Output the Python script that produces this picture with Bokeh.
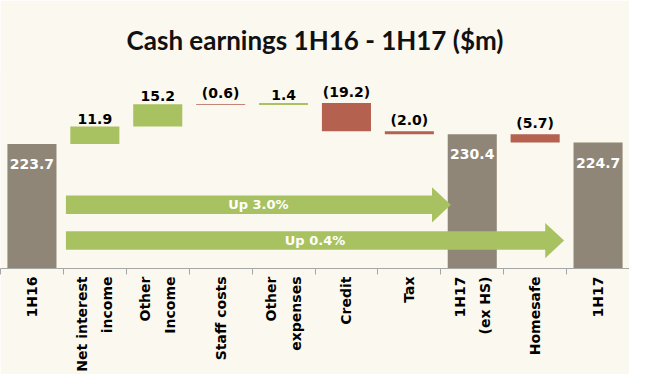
import math
from bokeh.plotting import figure
from bokeh.models import ColumnDataSource, FixedTicker, Title
from bokeh.core.properties import value
from bokeh.embed import file_html
from bokeh.resources import INLINE

# ---------------- data ----------------
categories = ["1H16", "Net interest\nincome", "Other\nIncome", "Staff costs",
              "Other\nexpenses", "Credit", "Tax", "1H17\n(ex HS)", "Homesafe", "1H17"]
amounts = [223.7, 11.9, 15.2, -0.6, 1.4, -19.2, -2.0, 230.4, -5.7, 224.7]
is_total = [True, False, False, False, False, False, False, True, False, True]
value_labels = ["223.7", "11.9", "15.2", "(0.6)", "1.4", "(19.2)", "(2.0)",
                "230.4", "(5.7)", "224.7"]

# growth arrows: (from total index, to total index)
growth_pairs = [(0, 7), (0, 9)]

# ---------------- styling / layout ----------------
BG = "#FBF8EF"
C_TOTAL = "#8F8677"
C_UP = "#A9C261"
C_DOWN = "#B5614F"
AXIS_FLOOR = 139.0
Y_TOP = 273.7
BAR_W = 0.78
FONT = "DejaVu Sans"

# waterfall geometry
bottoms, tops, colors = [], [], []
running = 0.0
for amt, tot in zip(amounts, is_total):
    if tot:
        running = amt
        bottoms.append(AXIS_FLOOR)
        tops.append(amt)
        colors.append(C_TOTAL)
    else:
        start = running
        running = running + amt
        bottoms.append(min(start, running))
        tops.append(max(start, running))
        colors.append(C_UP if amt >= 0 else C_DOWN)

xs = [i + 0.5 for i in range(len(categories))]

p = figure(width=629, height=374, x_range=(0, len(categories)),
           y_range=(AXIS_FLOOR, Y_TOP), output_backend="svg",
           toolbar_location=None, y_axis_location=None,
           min_border_left=0, min_border_right=0, min_border_top=70,
           min_border_bottom=105)
p.background_fill_color = BG
p.border_fill_color = BG
p.outline_line_color = None
p.grid.visible = False

p.title = Title(text="Cash earnings 1H16 - 1H17 ($m)", align="center",
                text_font="Lato", text_font_size="26px",
                text_font_style="bold", text_color="#111111", standoff=30)

src = ColumnDataSource(dict(x=xs, bottom=bottoms, top=tops, color=colors))
p.vbar(x="x", bottom="bottom", top="top", width=BAR_W, color="color",
       source=src, line_color=None)

# value labels: totals inside (white), deltas above (black)
out_x = [x for x, t in zip(xs, is_total) if not t]
out_y = [tp for tp, t in zip(tops, is_total) if not t]
out_t = [l for l, t in zip(value_labels, is_total) if not t]
p.text(x=out_x, y=out_y, text=out_t, text_align="center",
       text_baseline="bottom", y_offset=-3, text_font=value(FONT),
       text_font_style="bold", text_font_size="14px", text_color="#000000")

in_x = [x for x, t in zip(xs, is_total) if t]
in_y = [tp for tp, t in zip(tops, is_total) if t]
in_t = [l for l, t in zip(value_labels, is_total) if t]
p.text(x=in_x, y=in_y, text=in_t, text_align="center",
       text_baseline="top", y_offset=15, text_font=value(FONT),
       text_font_style="bold", text_font_size="14px", text_color="#FFFFFF")

# growth arrows
arrow_start = 1.04
arrow_tips = [7.16, 8.96]
arrow_levels = [182.3, 158.0]
body_half = 6.3
head_half = 12.0
head_len = 0.3
poly_x, poly_y, lab_x, lab_y, lab_t = [], [], [], [], []
for (a, b), tip, lvl in zip(growth_pairs, arrow_tips, arrow_levels):
    pct = (amounts[b] / amounts[a] - 1) * 100
    hb = tip - head_len
    poly_x.append([arrow_start, hb, hb, tip, hb, hb, arrow_start])
    poly_y.append([lvl - body_half, lvl - body_half, lvl - head_half, lvl,
                   lvl + head_half, lvl + body_half, lvl + body_half])
    lab_x.append((arrow_start + tip) / 2)
    lab_y.append(lvl)
    lab_t.append(f"Up {pct:.1f}%")
p.patches(poly_x, poly_y, fill_color=C_UP, line_color=None)
p.text(x=lab_x, y=lab_y, text=lab_t, text_align="center",
       text_baseline="middle", text_font=value(FONT), text_font_style="bold",
       text_font_size="13px", text_color="#FFFFFF")

# x axis
ax = p.xaxis[0]
ax.ticker = FixedTicker(ticks=xs, minor_ticks=list(range(0, len(categories) + 1)))
ax.major_label_overrides = {x: c for x, c in zip(xs, categories)}
ax.major_label_orientation = math.pi / 2
ax.major_tick_out = 0
ax.major_tick_in = 0
ax.minor_tick_out = 6
ax.minor_tick_in = 0
ax.minor_tick_line_color = "#A6A6A6"
ax.axis_line_color = "#A6A6A6"
ax.major_label_standoff = 2
ax.major_label_text_font = FONT
ax.major_label_text_font_style = "bold"
ax.major_label_text_font_size = "14px"
ax.major_label_text_line_height = 1.55
ax.major_label_text_color = "#000000"

open("out.html", "w").write(file_html(p, INLINE))
